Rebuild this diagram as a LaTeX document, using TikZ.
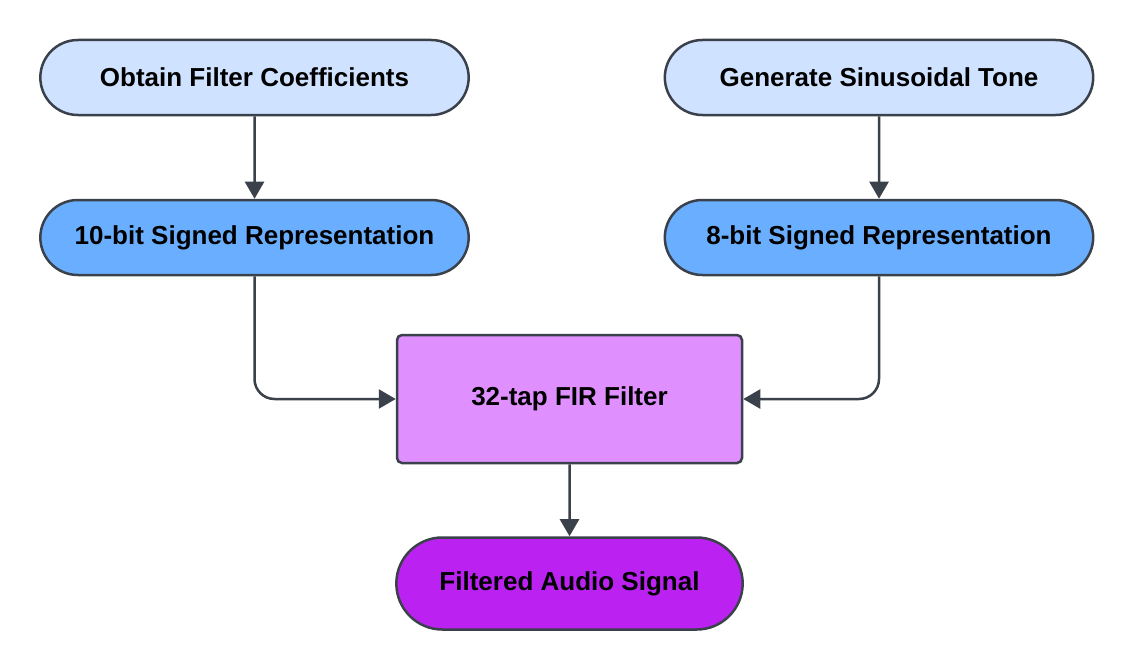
\documentclass[tikz,border=0pt]{standalone}
\usepackage{fontspec}
\setmainfont{Liberation Sans}
\usetikzlibrary{shapes.misc,arrows.meta}
\definecolor{edge}{HTML}{3A414A}
\definecolor{paleblue}{HTML}{CFE2FF}
\definecolor{midblue}{HTML}{6AAFFF}
\definecolor{palepurple}{HTML}{E08FFF}
\definecolor{deeppurple}{HTML}{BB22F2}
\tikzset{
  pill/.style={rounded rectangle,draw=edge,line width=2.5pt,minimum width=435pt,minimum height=75pt,font=\fontsize{26}{31}\selectfont\bfseries},
  box/.style={rectangle,rounded corners=5pt,draw=edge,line width=2.5pt,minimum width=345pt,minimum height=128pt,font=\fontsize{26}{31}\selectfont\bfseries},
  flow/.style={draw=edge,line width=2.5pt,-{Triangle[width=19pt,length=17pt]},rounded corners=20pt}
}
\begin{document}
\begin{tikzpicture}[x=1pt,y=-1pt]
\useasboundingbox (0,0) rectangle (1135,669);
\node[pill,fill=paleblue] (coeff) at (254.5,77.5) {Obtain Filter Coefficients};
\node[pill,fill=paleblue] (tone) at (879,77.5) {Generate Sinusoidal Tone};
\node[pill,fill=midblue] (tenbit) at (254.5,237.5) {10-bit Signed Representation};
\node[pill,fill=midblue] (eightbit) at (879,237.5) {8-bit Signed Representation};
\node[box,fill=palepurple] (fir) at (569.5,399) {32-tap FIR Filter};
\node[pill,fill=deeppurple,minimum width=353pt,minimum height=92pt] (out) at (569.5,583.5) {Filtered Audio Signal};
\draw[flow] (coeff) -- (tenbit);
\draw[flow] (tone) -- (eightbit);
\draw[flow] (tenbit.south) |- (fir.west);
\draw[flow] (eightbit.south) |- (fir.east);
\draw[flow] (fir) -- (out);
\end{tikzpicture}
\end{document}
